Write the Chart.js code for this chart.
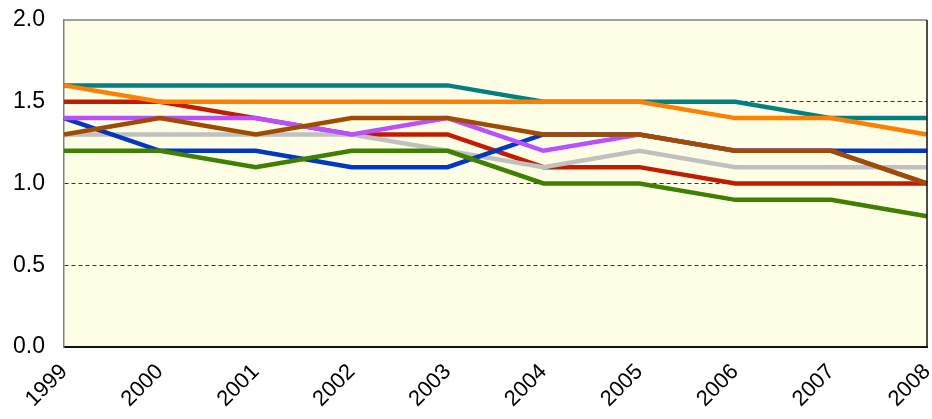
<!DOCTYPE html>
<html>
<head>
<meta charset="utf-8">
<script src="https://cdn.jsdelivr.net/npm/chart.js@4"></script>
<style>
  html, body { margin: 0; padding: 0; background: #fff; }
  #wrap { width: 932px; height: 419px; }
</style>
</head>
<body>
<div id="wrap"><canvas id="c"></canvas></div>
<script>
const years = ['1999', '2000', '2001', '2002', '2003', '2004', '2005', '2006', '2007', '2008'];

const teal   = [1.6, 1.6, 1.6, 1.6, 1.6, 1.5, 1.5, 1.5, 1.4, 1.4];
const orange = [1.6, 1.5, 1.5, 1.5, 1.5, 1.5, 1.5, 1.4, 1.4, 1.3];
const red    = [1.5, 1.5, 1.4, 1.3, 1.3, 1.1, 1.1, 1.0, 1.0, 1.0];
const purple = [1.4, 1.4, 1.4, 1.3, 1.4, 1.2, 1.3, 1.2, 1.2, 1.0];
const grey   = [1.3, 1.3, 1.3, 1.3, 1.2, 1.1, 1.2, 1.1, 1.1, 1.1];
const blue   = [1.4, 1.2, 1.2, 1.1, 1.1, 1.3, 1.3, 1.2, 1.2, 1.2];
const green  = [1.2, 1.2, 1.1, 1.2, 1.2, 1.0, 1.0, 0.9, 0.9, 0.8];
const brown  = [1.3, 1.4, 1.3, 1.4, 1.4, 1.3, 1.3, 1.2, 1.2, 1.0];

const yTicks = [0, 0.5, 1.0, 1.5, 2.0];

// plot background + top/right frame
const frame = {
    id: 'frame',
    beforeDraw(chart) {
        const {ctx, chartArea: a} = chart;
        ctx.save();
        ctx.fillStyle = '#FEFEE6';
        ctx.fillRect(a.left, a.top, a.right - a.left, a.bottom - a.top);
        ctx.restore();
    },
    afterDraw(chart) {
        const {ctx, chartArea: a} = chart;
        ctx.save();
        ctx.lineWidth = 1.5;
        ctx.strokeStyle = '#808080';
        ctx.beginPath();
        ctx.moveTo(a.left, a.top);
        ctx.lineTo(a.right, a.top);
        ctx.stroke();
        ctx.strokeStyle = '#111';
        ctx.beginPath();
        ctx.moveTo(a.right, a.top);
        ctx.lineTo(a.right, a.bottom);
        ctx.stroke();
        ctx.restore();
    }
};

function line(data, color) {
    return {
        data: data,
        borderColor: color,
        backgroundColor: color,
        borderWidth: 4.5,
        pointRadius: 0,
        tension: 0,
        fill: false
    };
}

const family = '"Liberation Sans", Arial, Helvetica, sans-serif';

new Chart(document.getElementById('c'), {
    type: 'line',
    data: {
        labels: years,
        // first dataset ends up on top
        datasets: [
            line(brown, '#A04C00'),
            line(green, '#408000'),
            line(purple, '#B950FF'),
            line(orange, '#FF8000'),
            line(blue, '#0038C0'),
            line(grey, '#C0C0C0'),
            line(red, '#C01C00'),
            line(teal, '#008080')
        ]
    },
    options: {
        responsive: true,
        maintainAspectRatio: false,
        animation: false,
        layout: { padding: {top: 20, right: 5, left: 0, bottom: 0} },
        plugins: {
            legend: {display: false},
            tooltip: {enabled: false}
        },
        scales: {
            x: {
                offset: false,
                grid: {display: false, drawTicks: false},
                border: {color: '#111', width: 2},
                ticks: {
                    color: '#000',
                    font: {family: family, size: 22},
                    minRotation: 45,
                    maxRotation: 45,
                    padding: 12,
                    autoSkip: false
                },
                afterFit(scale) {
                    scale.height = 72;
                    scale.paddingLeft = 0;
                    scale.paddingRight = 0;
                }
            },
            y: {
                min: 0,
                max: 2,
                afterBuildTicks(scale) {
                    scale.ticks = yTicks.map(v => ({value: v}));
                },
                grid: {
                    drawTicks: false,
                    color: ctx => (ctx.tick && (ctx.tick.value === 0 || ctx.tick.value === 2)) ? 'rgba(0,0,0,0)' : '#333',
                    lineWidth: 1
                },
                border: {color: '#808080', width: 1.5, dash: [4, 3]},
                ticks: {
                    color: '#000',
                    font: {family: family, size: 23},
                    padding: 19,
                    callback: v => Number(v).toFixed(1)
                },
                afterFit(scale) {
                    scale.width = 64;
                    scale.paddingTop = 0;
                    scale.paddingBottom = 0;
                }
            }
        }
    },
    plugins: [frame]
});
</script>
</body>
</html>
